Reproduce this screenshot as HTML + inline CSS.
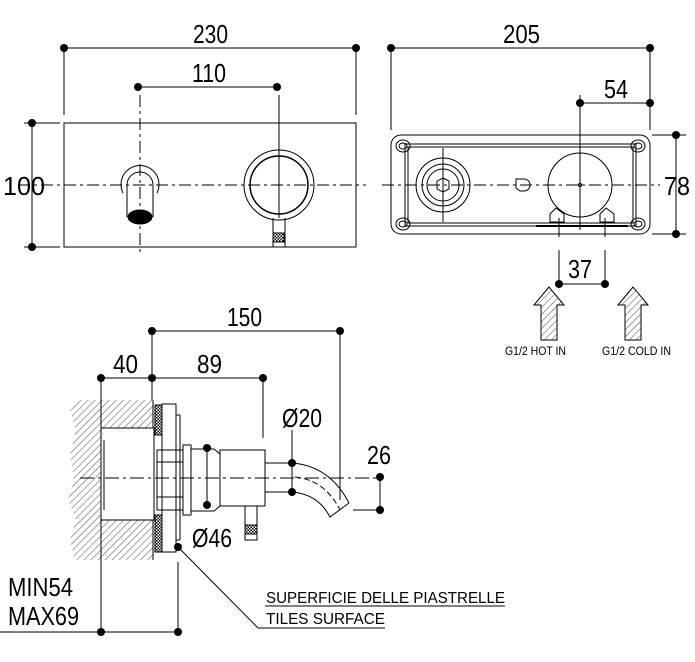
<!DOCTYPE html>
<html><head><style>html,body{margin:0;padding:0;background:#fff}svg{display:block}text{font-family:"Liberation Sans",sans-serif;fill:#000}</style></head><body>
<svg width="695" height="662" viewBox="0 0 695 662" xmlns="http://www.w3.org/2000/svg">
<defs>
<pattern id="h" width="5" height="5" patternUnits="userSpaceOnUse" patternTransform="rotate(45)"><line x1="0" y1="0" x2="0" y2="5" stroke="#000" stroke-width="0.7"/></pattern>
<pattern id="k" width="3" height="3" patternUnits="userSpaceOnUse"><rect width="3" height="3" fill="#fff"/><rect width="1.5" height="1.5" fill="#000"/><rect x="1.5" y="1.5" width="1.5" height="1.5" fill="#000"/></pattern>
</defs>
<g stroke="#000" fill="none" stroke-width="1">
<rect x="64" y="123" width="292" height="124"/>
<line x1="18" y1="185" x2="366" y2="185" stroke-dasharray="12,4,3,4"/>
<line x1="140" y1="95" x2="140" y2="255" stroke-dasharray="12,4,3,4"/>
<line x1="279" y1="95" x2="279" y2="218"/>
<path d="M123,193 A19,19 0 1 1 157,193"/>
<path d="M127,217 L127,185 A13,13 0 0 1 153,185 L153,217"/>
<ellipse cx="140" cy="217" rx="12" ry="7" fill="#000"/>
<circle cx="279" cy="185" r="35"/>
<circle cx="279" cy="185" r="29" stroke-width="1.5"/>
<path d="M273,218 V247 M285,218 V247"/>
<rect x="273" y="233" width="11" height="9" fill="url(#k)"/>
<line x1="64" y1="48" x2="356" y2="48"/>
<line x1="64" y1="48" x2="64" y2="115"/><line x1="356" y1="48" x2="356" y2="115"/>
<line x1="138" y1="87" x2="277" y2="87"/>
<line x1="24" y1="123" x2="60" y2="123"/><line x1="24" y1="247" x2="60" y2="247"/>
<line x1="32" y1="123" x2="32" y2="247"/>
<rect x="391" y="135" width="259" height="99" rx="10"/>
<rect x="405" y="144" width="231" height="82"/>
<rect x="408" y="147" width="225" height="76"/>
<ellipse cx="403" cy="146" rx="7" ry="6"/><ellipse cx="403" cy="146" rx="4" ry="3"/>
<ellipse cx="403" cy="224" rx="7" ry="6"/><ellipse cx="403" cy="224" rx="4" ry="3"/>
<ellipse cx="638" cy="146" rx="7" ry="6"/><ellipse cx="638" cy="146" rx="4" ry="3"/>
<ellipse cx="638" cy="224" rx="7" ry="6"/><ellipse cx="638" cy="224" rx="4" ry="3"/>
<line x1="382" y1="185" x2="660" y2="185" stroke-dasharray="12,4,3,4"/>
<circle cx="443" cy="185" r="27"/><circle cx="443" cy="185" r="21"/><circle cx="443" cy="185" r="16"/>
<polygon points="443,178 449,181 449,189 443,192 437,189 437,181"/>
<line x1="443" y1="148" x2="443" y2="222"/>
<circle cx="580" cy="185" r="32"/>
<circle cx="580" cy="185" r="1.5"/>
<line x1="580" y1="95" x2="580" y2="230"/>
<path d="M550,222 L550,214 L556,208 L564,214 L564,222 Z M600,222 L600,214 L606,208 L614,214 L614,222 Z"/>
<line x1="536" y1="226" x2="628" y2="226" stroke-width="2"/>
<path d="M516,179 h8 a6,6 0 0 1 0,12 h-4 l-4,-3 Z"/>
<line x1="391" y1="48" x2="391" y2="130"/><line x1="650" y1="48" x2="650" y2="130"/>
<line x1="391" y1="48" x2="650" y2="48"/>
<line x1="580" y1="103" x2="650" y2="103"/>
<line x1="652" y1="135" x2="686" y2="135"/><line x1="652" y1="234" x2="686" y2="234"/>
<line x1="676" y1="135" x2="676" y2="234"/>
<line x1="559" y1="218" x2="559" y2="237"/><line x1="605" y1="218" x2="605" y2="237"/>
<line x1="559" y1="250" x2="559" y2="284"/><line x1="605" y1="250" x2="605" y2="284"/>
<line x1="559" y1="284" x2="605" y2="284"/>
<polygon points="549,287 534,305 541,305 541,340 557,340 557,305 564,305" fill="url(#h)"/>
<polygon points="633,287 618,305 625,305 625,340 641,340 641,305 648,305" fill="url(#h)"/>
<path d="M75,400 H153 V560 H75 L70,540 L76,520 L68,500 L74,480 L70,455 L76,430 L70,410 Z" fill="url(#h)" stroke="none"/>
<rect x="101" y="428" width="53" height="92" fill="#fff"/>
<line x1="104" y1="440" x2="104" y2="510"/>
<line x1="153" y1="400" x2="153" y2="428"/><line x1="153" y1="520" x2="153" y2="560"/>
<rect x="155" y="405" width="7" height="30" fill="url(#k)"/>
<rect x="155" y="515" width="7" height="37" fill="url(#k)"/>
<rect x="162" y="404" width="14" height="148"/>
<line x1="176" y1="415" x2="180" y2="415"/><line x1="180" y1="415" x2="180" y2="540"/><line x1="176" y1="540" x2="180" y2="540"/>
<rect x="157" y="450" width="26" height="60"/>
<line x1="157" y1="462" x2="183" y2="462"/><line x1="157" y1="497" x2="183" y2="497"/>
<rect x="183" y="445" width="8" height="70"/>
<path d="M191,449 H214 L220,454 V506 L214,511 H191"/>
<rect x="220" y="450" width="45" height="56"/>
<line x1="265" y1="463" x2="292" y2="463"/><line x1="265" y1="492" x2="292" y2="492"/>
<path d="M292,463 Q330,466 349,503 M292,492 Q318,494 330,517 L349,503"/>
<path d="M295,477 Q325,480 340,510" stroke-dasharray="6,3"/>
<rect x="245" y="506" width="12" height="34"/>
<rect x="245" y="525" width="12" height="9" fill="url(#k)"/>
<line x1="80" y1="478" x2="380" y2="478" stroke-dasharray="14,4,3,4"/>
<line x1="152" y1="331" x2="340" y2="331"/><line x1="340" y1="331" x2="340" y2="500"/>
<line x1="152" y1="331" x2="152" y2="400"/>
<line x1="101" y1="378" x2="263" y2="378"/>
<line x1="101" y1="378" x2="101" y2="632"/><line x1="263" y1="378" x2="263" y2="438"/>
<line x1="292" y1="430" x2="292" y2="492"/>
<line x1="207" y1="448" x2="207" y2="505"/>
<line x1="380" y1="477" x2="380" y2="510"/><line x1="353" y1="510" x2="380" y2="510"/>
<line x1="0" y1="632" x2="178" y2="632"/><line x1="178" y1="562" x2="178" y2="632"/>
<path d="M178,547 L258,628 H385"/>
<line x1="265" y1="606" x2="505" y2="606"/>
</g>
<g fill="#000">
<circle cx="64" cy="48" r="4"/><circle cx="356" cy="48" r="4"/>
<circle cx="138" cy="87" r="4"/><circle cx="277" cy="87" r="4"/>
<circle cx="32" cy="123" r="4"/><circle cx="32" cy="247" r="4"/>
<circle cx="391" cy="48" r="4"/><circle cx="650" cy="48" r="4"/>
<circle cx="580" cy="103" r="4"/><circle cx="650" cy="103" r="4"/>
<circle cx="676" cy="135" r="4"/><circle cx="676" cy="234" r="4"/>
<circle cx="559" cy="284" r="4"/><circle cx="605" cy="284" r="4"/>
<circle cx="152" cy="331" r="4"/><circle cx="340" cy="331" r="4"/>
<circle cx="101" cy="378" r="4"/><circle cx="152" cy="378" r="4"/><circle cx="263" cy="378" r="4"/>
<circle cx="292" cy="463" r="4"/><circle cx="292" cy="492" r="4"/>
<circle cx="207" cy="448" r="4"/><circle cx="207" cy="505" r="4"/>
<circle cx="380" cy="477" r="4"/><circle cx="380" cy="510" r="4"/>
<circle cx="178" cy="547" r="4"/>
<circle cx="101" cy="632" r="4"/><circle cx="178" cy="632" r="4"/>
</g>
<g font-size="26" lengthAdjust="spacingAndGlyphs">
<text x="193" y="43" textLength="35" lengthAdjust="spacingAndGlyphs">230</text>
<text x="192" y="82" textLength="34" lengthAdjust="spacingAndGlyphs">110</text>
<text x="3" y="195" textLength="42" lengthAdjust="spacingAndGlyphs">100</text>
<text x="503" y="43" textLength="37" lengthAdjust="spacingAndGlyphs">205</text>
<text x="604" y="98" textLength="24" lengthAdjust="spacingAndGlyphs">54</text>
<text x="664" y="195" textLength="26" lengthAdjust="spacingAndGlyphs">78</text>
<text x="568" y="278" textLength="24" lengthAdjust="spacingAndGlyphs">37</text>
<text x="227" y="326" textLength="35" lengthAdjust="spacingAndGlyphs">150</text>
<text x="113" y="373" textLength="25" lengthAdjust="spacingAndGlyphs">40</text>
<text x="197" y="373" textLength="25" lengthAdjust="spacingAndGlyphs">89</text>
<text x="282" y="427" textLength="40" lengthAdjust="spacingAndGlyphs">Ø20</text>
<text x="367" y="464" textLength="24" lengthAdjust="spacingAndGlyphs">26</text>
<text x="192" y="547" textLength="40" lengthAdjust="spacingAndGlyphs">Ø46</text>
<text x="8" y="596" textLength="65" lengthAdjust="spacingAndGlyphs">MIN54</text>
<text x="8" y="625" textLength="71" lengthAdjust="spacingAndGlyphs">MAX69</text>
</g>
<text x="505" y="355" font-size="12" textLength="61" lengthAdjust="spacingAndGlyphs">G1/2 HOT IN</text>
<text x="602" y="355" font-size="12" textLength="69" lengthAdjust="spacingAndGlyphs">G1/2 COLD IN</text>
<text x="266" y="603" font-size="16" textLength="239" lengthAdjust="spacingAndGlyphs">SUPERFICIE DELLE PIASTRELLE</text>
<text x="266" y="624" font-size="16" textLength="119" lengthAdjust="spacingAndGlyphs">TILES SURFACE</text>
</svg>
</body></html>
